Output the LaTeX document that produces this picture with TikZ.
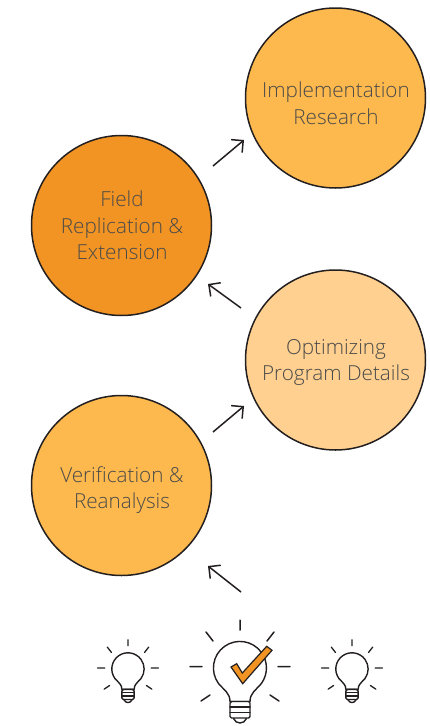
\documentclass[tikz,border=0pt]{standalone}
\usepackage{fontspec}
\setmainfont{Open Sans Light}
\usetikzlibrary{arrows.meta}
\definecolor{midorange}{HTML}{FDB94D}
\definecolor{darkorange}{HTML}{F29423}
\definecolor{paleorange}{HTML}{FFD08F}
\definecolor{inkline}{HTML}{231F20}
\definecolor{labeltext}{HTML}{4A4A4A}
\tikzset{
  stagecircle/.style={circle,draw=inkline,line width=1.5pt,minimum size=180pt,inner sep=0pt},
  stagelabel/.style={align=center,inner sep=0pt,text=labeltext,font=\fontsize{20.7}{26.5}\selectfont},
  stagearrow/.style={draw=inkline,line width=1.5pt,-{Straight Barb[length=8.5pt,width=17pt,line width=1.5pt]}},
  bulbline/.style={draw=inkline,line width=1.4pt,line cap=round,line join=round},
}
\newcommand{\lampicon}[1]{%
    \path[bulbline,fill=white] (-10,33.5) .. controls (-10,25) and (-16,22) .. (-21.5,15.5)
       arc[start angle=144,delta angle=252,radius=26.5]
       .. controls (16,22) and (10,25) .. (10,33.5) -- cycle;
    \path[bulbline,fill=white,rounded corners=1.5pt] (-10,33.5) -- (-10,50) -- (10,50) -- (10,33.5) -- cycle;
    \path[bulbline] (-10,39) -- (10,39) (-10,44.5) -- (10,44.5);
    \path[bulbline] (-6.5,50.5) .. controls (-4,56.5) and (4,56.5) .. (6.5,50.5);
    \path[bulbline,line width=#1] (0,-48) -- (0,-38)
       (-34,-36) -- (-27,-27) (34,-36) -- (27,-27)
       (-50,-1.5) -- (-38,-1.5) (50,-1.5) -- (38,-1.5)
       (-39,33) -- (-30,27) (39,33) -- (30,27);
}
\begin{document}
\begin{tikzpicture}[x=1pt,y=-1pt]
\useasboundingbox (0,0) rectangle (429,726);
\node[stagecircle,fill=midorange] (impl) at (335.5,98) {};
\node[stagecircle,fill=darkorange] (field) at (121.5,225.5) {};
\node[stagecircle,fill=paleorange] (opt) at (335.5,360) {};
\node[stagecircle,fill=midorange] (verif) at (121.5,485.5) {};
\node[stagelabel] (impltext) at (336,103.3) {Implementation\\Research};
\node[stagelabel] (fieldtext) at (122,225.5) {Field\\Replication \&\\Extension};
\node[stagelabel] (opttext) at (336,362.3) {Optimizing\\Program Details};
\node[stagelabel] (veriftext) at (122,490.2) {Verification \&\\Reanalysis};
\coordinate (a1s) at (213,166); \coordinate (a1e) at (244,140);
\coordinate (a2s) at (241,308); \coordinate (a2e) at (208,284);
\coordinate (a3s) at (213,432); \coordinate (a3e) at (244,406);
\coordinate (a4s) at (241,592); \coordinate (a4e) at (208,566);
\draw[stagearrow] (a1s) -- (a1e);
\draw[stagearrow] (a2s) -- (a2e);
\draw[stagearrow] (a3s) -- (a3e);
\draw[stagearrow] (a4s) -- (a4e);
\begin{scope}[shift={(240,668)}]
  \lampicon{1.5pt}
  \fill[darkorange,draw=inkline,line width=1.2pt,line join=miter]
    (-9,-1) -- (-3.3,-4.3) -- (2.3,5) -- (26.7,-21.7) -- (32,-17.7) -- (2.7,15.7) -- cycle;
\end{scope}
\begin{scope}[shift={(128,669)},scale=0.61]
  \lampicon{1.3pt}
\end{scope}
\begin{scope}[shift={(352,669)},scale=0.61]
  \lampicon{1.3pt}
\end{scope}
\end{tikzpicture}
\end{document}
